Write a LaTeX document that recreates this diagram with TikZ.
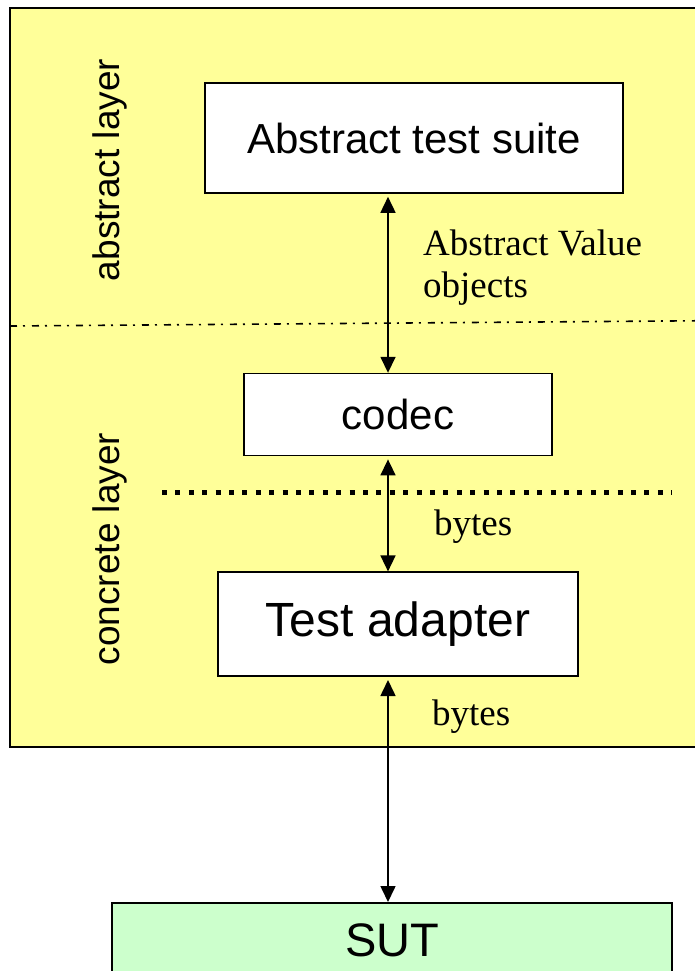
\documentclass[tikz,border=0pt]{standalone}
\usepackage{fontspec}
\setmainfont{Liberation Serif}
\setsansfont{Liberation Sans}
\usetikzlibrary{positioning, arrows.meta}
\definecolor{layeryellow}{RGB}{255,255,153}
\definecolor{sutgreen}{RGB}{204,255,204}

\begin{document}
\begin{tikzpicture}[
  x=1pt, y=-1pt,
  block/.style={rectangle, draw=black, fill=white, line width=1.6pt, inner sep=0pt, font=\sffamily\fontsize{42}{48}\selectfont},
  layer/.style={rotate=90, inner sep=0pt, font=\sffamily\fontsize{37}{44}\selectfont},
  note/.style={inner sep=0pt, align=left, font=\rmfamily\fontsize{37}{42}\selectfont},
  arrow/.style={{Triangle[length=16pt,width=15pt]}-{Triangle[length=16pt,width=15pt]}, line width=1.6pt}
]
\useasboundingbox (0,0) rectangle (694,971);

% Layer frame
\draw[fill=layeryellow, line width=1.6pt] (10,8) rectangle (720,747);
\draw[line width=1.6pt, dash pattern=on 7pt off 6pt on 2pt off 7pt] (10,326) -- (720,320.6);
\draw[line width=5pt, dash pattern=on 5pt off 8.4pt] (162,492) -- (672,492);

\node[layer] (abslayer) at (110,170) {abstract layer};
\node[layer] (conclayer) at (110,549) {concrete layer};

% Core Nodes
\node[block, minimum width=418pt, minimum height=110pt] (suite) at (414,138) {Abstract test suite};
\node[block, minimum width=308pt, minimum height=82pt] (codec) [below=179pt of suite, xshift=-16pt] {codec};
\node[block, minimum width=360pt, minimum height=104pt, font=\sffamily\fontsize{48}{54}\selectfont] (adapter) [below=115pt of codec] {Test adapter};
\node[block, fill=sutgreen, minimum width=560pt, minimum height=76pt, font=\sffamily\fontsize{47}{54}\selectfont] (sut) [below=225pt of adapter, xshift=-6pt] {SUT};

% Labels
\node[note, anchor=west] (absval) at (423,268) {Abstract Value\\objects};
\node[note, anchor=base west] (bytesup) at (434,535) {bytes};
\node[note, anchor=base west] (bytesdown) at (432,725) {bytes};

% Arrows
\coordinate (spine) at (388,0);
\draw[arrow, shorten <=3pt] (suite.south -| spine) -- (codec.north -| spine);
\draw[arrow, shorten <=3pt] (codec.south -| spine) -- (adapter.north -| spine);
\draw[arrow, shorten <=3pt] (adapter.south -| spine) -- (sut.north -| spine);

\end{tikzpicture}
\end{document}
